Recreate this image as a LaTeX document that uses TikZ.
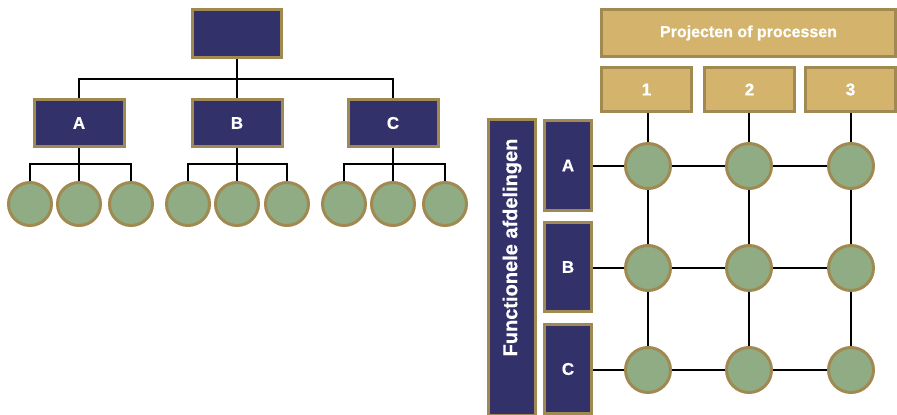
\documentclass[tikz,border=0pt]{standalone}
\usepackage{fontspec}
\setmainfont{Liberation Sans}
\newfontfamily\heavyfont{Liberation Sans}[BoldFeatures={FakeBold=0.7}]
\definecolor{navy}{HTML}{33316A}
\definecolor{goldline}{HTML}{A08A52}
\definecolor{sand}{HTML}{D4B46C}
\definecolor{sage}{HTML}{8FAC84}
\begin{document}
\begin{tikzpicture}[x=1pt,y=-1pt,
  unitbox/.style={draw=goldline,line width=3pt,fill=navy,text=white,
    font=\heavyfont\bfseries\fontsize{17}{19}\selectfont,inner sep=0pt},
  headbox/.style={draw=goldline,line width=3pt,fill=sand,text=white,
    font=\heavyfont\bfseries\fontsize{16}{18}\selectfont,inner sep=0pt},
  member/.style={circle,draw=goldline,line width=3pt,fill=sage,inner sep=0pt},
  link/.style={draw=black,line width=1.7pt}]
\useasboundingbox (0,0) rectangle (897,415);

% ---- line organisation ----
\node[unitbox,minimum width=89pt,minimum height=48pt] (top) at (237,33.5) {};
\foreach \n/\x in {A/79,B/237,C/393}
  \node[unitbox,minimum width=90pt,minimum height=47pt] (\n) at (\x,123) {\n};

\foreach \n/\xa/\xb/\xc in {A/30/79/131,B/188/237/287,C/344/393/445}{
  \node[member,minimum size=43pt] (\n1) at (\xa,204) {};
  \node[member,minimum size=43pt] (\n2) at (\xb,204) {};
  \node[member,minimum size=43pt] (\n3) at (\xc,204) {};
}

\coordinate (bus) at (237,79);
\draw[link,line width=2.6pt] (top.south) -- (B.north);
\draw[link] (A.north) -- (A.north |- bus) -| (C.north);
\foreach \n in {A,B,C}{
  \coordinate (bus\n) at (0,164);
  \draw[link] (\n.south) -- (\n2.north);
  \draw[link] (\n1.north) -- (\n1.north |- bus\n) -| (\n3.north);
}

% ---- matrix organisation ----
\node[headbox,minimum width=294pt,minimum height=47pt] (head) at (748.5,33) {Projecten of processen};
\foreach \k/\x in {1/646.5,2/749.5,3/850.5}
  \node[headbox,minimum width=90pt,minimum height=44pt,
    font=\heavyfont\bfseries\fontsize{17}{19}\selectfont] (p\k) at (\x,89.5) {\k};

\node[unitbox,minimum width=47pt,minimum height=296pt] (dept) at (512,267) {};
\node[rotate=90,text=white,font=\heavyfont\bfseries\fontsize{20}{22}\selectfont]
  (deptlabel) at (512,247.5) {Functionele afdelingen};

\node[unitbox,minimum width=47pt,minimum height=90pt] (rA) at (568,165.5) {A};
\node[unitbox,minimum width=47pt,minimum height=89pt] (rB) at (568,267) {B};
\node[unitbox,minimum width=47pt,minimum height=89pt] (rC) at (568,369) {C};

\foreach \r/\y in {1/166,2/268,3/370}
  \foreach \c/\x in {1/648,2/749,3/851}
    \node[member,minimum size=45pt] (g\r\c) at (\x,\y) {};

\foreach \c in {1,2,3}{
  \draw[link] (p\c.south -| g1\c) -- (g1\c);
  \draw[link] (g1\c) -- (g2\c);
  \draw[link] (g2\c) -- (g3\c);
}
\foreach \r/\n in {1/A,2/B,3/C}{
  \draw[link] (r\n.east |- g\r1) -- (g\r1);
  \draw[link] (g\r1) -- (g\r2);
  \draw[link] (g\r2) -- (g\r3);
}
\end{tikzpicture}
\end{document}
